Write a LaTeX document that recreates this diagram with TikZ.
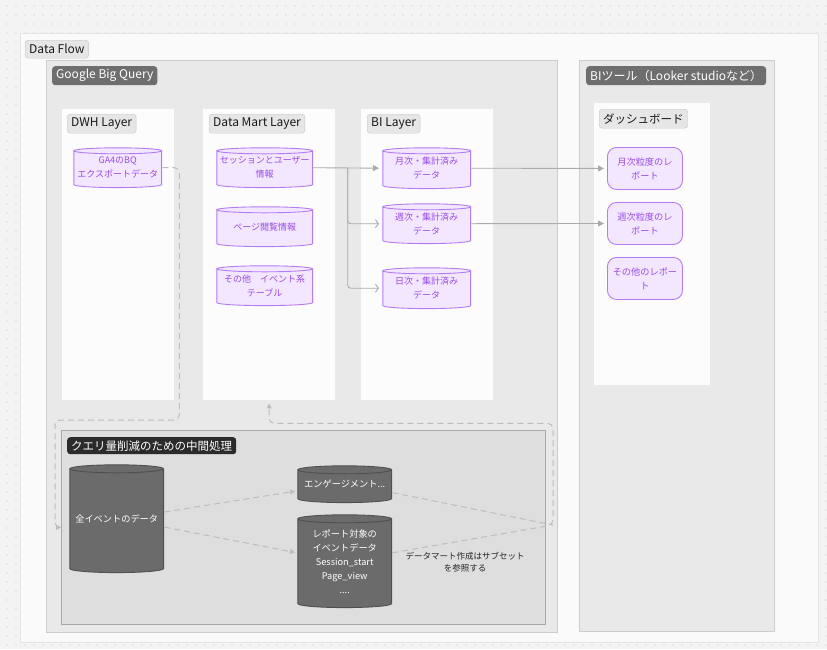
\documentclass[tikz,border=0pt]{standalone}
\usepackage{fontspec}
\setmainfont{Noto Sans CJK JP}
\usetikzlibrary{arrows.meta,calc}

\definecolor{canvas}{HTML}{F3F3F3}
\definecolor{dotgray}{HTML}{C2C2C2}
\definecolor{framebg}{HTML}{FAFAFA}
\definecolor{frameline}{HTML}{E4E4E4}
\definecolor{groupbg}{HTML}{E9E9E9}
\definecolor{groupline}{HTML}{CDCDCD}
\definecolor{panelbg}{HTML}{FCFCFC}
\definecolor{taglight}{HTML}{E6E6E6}
\definecolor{tagline}{HTML}{C6C6C6}
\definecolor{tagdark}{HTML}{6E6E6E}
\definecolor{tagblack}{HTML}{2B2B2B}
\definecolor{purpfill}{HTML}{F3E6FF}
\definecolor{purpline}{HTML}{B47CF2}
\definecolor{purptext}{HTML}{9A4BE2}
\definecolor{subbg}{HTML}{DEDEDE}
\definecolor{subline}{HTML}{A8A8A8}
\definecolor{darkcyl}{HTML}{6B6B6B}
\definecolor{darkcylline}{HTML}{505050}
\definecolor{linkgray}{HTML}{ABABAB}
\definecolor{dashgray}{HTML}{BDBDBD}

\tikzset{
  group/.style={draw=groupline, fill=groupbg, line width=0.8pt, anchor=north west, inner sep=0pt},
  panel/.style={fill=panelbg, anchor=north west, inner sep=0pt},
  tag/.style={draw=tagline, fill=taglight, rounded corners=3pt, anchor=north west, inner xsep=4pt,
    inner ysep=0pt, minimum height=19pt, font=\fontsize{12}{14}\selectfont, text=black!90},
  darktag/.style={tag, draw=none, fill=tagdark, text=white},
  cylfill/.style n args={3}{path picture={
    \path let \p1=(path picture bounding box.south west), \p2=(path picture bounding box.north east),
      \n1={(\x2-\x1)/2-0.6pt} in [fill=#1, draw=#2, line width=0.9pt]
      (\x1+0.6pt,\y2-#3-0.6pt) -- (\x1+0.6pt,\y1+#3+0.6pt)
      arc[start angle=180, end angle=360, x radius=\n1, y radius=#3]
      -- (\x2-0.6pt,\y2-#3-0.6pt)
      arc[start angle=0, end angle=180, x radius=\n1, y radius=#3]
      arc[start angle=180, end angle=360, x radius=\n1, y radius=#3];
  }},
  pcyl/.style={anchor=north west, inner sep=0pt, align=center, text=purptext,
    font=\fontsize{9}{14}\selectfont, cylfill={purpfill}{purpline}{3pt}},
  gcyl/.style={anchor=north west, inner sep=0pt, align=center, text=white,
    font=\fontsize{9.2}{14}\selectfont, cylfill={darkcyl}{darkcylline}{4pt}},
  report/.style={draw=purpline, fill=purpfill, line width=0.9pt, rounded corners=9pt, anchor=north west,
    inner sep=0pt, align=center, text=purptext, font=\fontsize{9.2}{14}\selectfont,
    minimum width=75pt, minimum height=42pt},
  link/.style={draw=linkgray, line width=0.9pt, -{Triangle[length=6pt,width=6pt]}, shorten >=3pt},
  barb/.style={draw=linkgray, line width=0.9pt, -{Straight Barb[length=3pt,width=8pt]}, shorten >=3pt,
    rounded corners=3pt},
  dashlink/.style={draw=dashgray, line width=1pt, dash pattern=on 6pt off 4pt, rounded corners=5pt},
}

\begin{document}
\begin{tikzpicture}[x=1pt, y=-1pt]
\useasboundingbox (0,0) rectangle (827,649);
\fill[canvas] (0,0) rectangle (827,649);
\foreach \i in {0,...,91}
  \foreach \j in {0,...,71}
    \fill[dotgray] (7+9*\i,6+9*\j) circle (0.6);

\node[panel, draw=frameline, fill=framebg, minimum width=798pt, minimum height=609pt] (flow) at (20,33) {};
\node[tag, minimum height=18pt] (flowtag) at (25,40) {Data Flow};

\node[group, minimum width=511pt, minimum height=572pt] (gbq) at (46,60) {};
\node[darktag] (gbqtag) at (52,66) {Google Big Query};
\node[group, minimum width=195pt, minimum height=571pt] (bitool) at (579,60) {};
\node[darktag] (bitooltag) at (586,66) {BIツール（Looker studioなど）};

\node[panel, minimum width=112pt, minimum height=291pt] (dwh) at (62,109) {};
\node[tag] (dwhtag) at (67,114) {DWH Layer};
\node[panel, minimum width=132pt, minimum height=291pt] (dm) at (203,109) {};
\node[tag] (dmtag) at (209,114) {Data Mart Layer};
\node[panel, minimum width=132pt, minimum height=291pt] (bil) at (361,109) {};
\node[tag] (biltag) at (367,114) {BI Layer};
\node[panel, minimum width=116pt, minimum height=282pt] (dash) at (594,103) {};
\node[tag, font=\fontsize{11.5}{14}\selectfont] (dashtag) at (599,109) {ダッシュボード};

\node[pcyl, minimum width=89pt, minimum height=41pt] (ga4) at (73,147) {GA4のBQ\\エクスポートデータ};
\node[pcyl, minimum width=97pt, minimum height=41pt] (sess) at (216,147) {セッションとユーザー\\情報};
\node[pcyl, minimum width=97pt, minimum height=41pt] (pview) at (216,206) {ページ閲覧情報};
\node[pcyl, minimum width=97pt, minimum height=41pt] (other) at (216,265) {その他　イベント系\\テーブル};
\node[pcyl, minimum width=89pt, minimum height=42pt] (mon) at (382,147) {月次・集計済み\\データ};
\node[pcyl, minimum width=89pt, minimum height=41pt] (wk) at (382,203) {週次・集計済み\\データ};
\node[pcyl, minimum width=89pt, minimum height=42pt] (day) at (382,267) {日次・集計済み\\データ};

\node[report] (rmon) at (607,147) {月次粒度のレ\\ポート};
\node[report] (rwk) at (607,202) {週次粒度のレ\\ポート};
\node[report] (rother) at (607,257) {その他のレポー\\ト};

\node[panel, draw=subline, fill=subbg, line width=0.8pt, minimum width=484pt, minimum height=194pt] (sub) at (61,430) {};
\node[darktag, fill=tagblack, minimum height=17pt, font=\fontsize{11.5}{14}\selectfont] (subtag) at (67,437) {クエリ量削減のための中間処理};
\node[gcyl, minimum width=95pt, minimum height=109pt] (allcyl) at (69,464) {全イベントのデータ};
\node[gcyl, minimum width=95pt, minimum height=38pt] (eng) at (297,465) {エンゲージメント...};
\node[gcyl, minimum width=95pt, minimum height=94pt] (rep) at (297,514) {レポート対象の\\イベントデータ\\Session\_start\\Page\_view\\....};
\node[align=center, font=\fontsize{8.5}{12.5}\selectfont, text=black!85] (note) at (465,562) {データマート作成はサブセット\\を参照する};

\draw[link] (sess.east) -- (mon.west);
\draw[barb] ($(sess.east)!0.5!(mon.west)$) |- (wk.west);
\draw[barb] ($(sess.east)!0.5!(mon.west)$) |- (day.west);
\draw[link] (mon.east) -- (rmon.west);
\draw[link] (wk.east) -- (rwk.west);

\draw[dashlink, -{Triangle[length=5pt,width=5pt]}] (ga4.east) -- ++(17,0) |- (55,420) |- (sub.west);
\draw[dashlink, -{Triangle[length=5pt,width=5pt]}, shorten >=2pt] (allcyl.8) -- (eng.188);
\draw[dashlink, -{Triangle[length=5pt,width=5pt]}, shorten >=2pt] (allcyl.-10) -- (rep.170);
\coordinate (merge) at (553,525);
\draw[dashlink] (eng.-10) -- (merge);
\draw[dashlink, -{Triangle[length=5pt,width=5pt]}, shorten >=3pt] (rep.10) -- (merge) |- ($(dm.south)+(0,23)$) -- (dm.south);
\end{tikzpicture}
\end{document}
